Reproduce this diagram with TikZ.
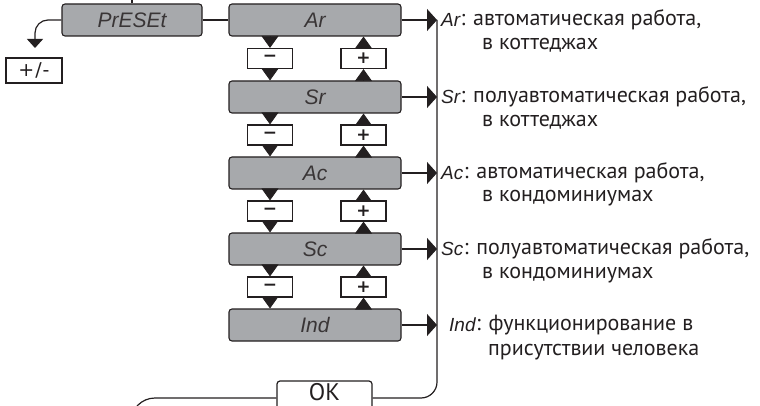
\documentclass[tikz,border=0pt]{standalone}
\usepackage{fontspec}
\setmainfont{PT Sans}
\newfontfamily\lcdfont{Liberation Sans}
\newfontfamily\keyfont{DejaVu Sans}
\usetikzlibrary{arrows.meta}
\definecolor{boxgray}{HTML}{A7A9AC}
\definecolor{ink}{HTML}{231F20}
\begin{document}
\begin{tikzpicture}[x=1pt,y=-1pt,
  conn/.style={draw=ink, line width=1.2pt},
  lcdbox/.style={draw=ink, line width=1.1pt, fill=boxgray, rounded corners=3pt,
    minimum width=172pt, minimum height=32pt, inner sep=0pt,
    font=\lcdfont\itshape\fontsize{21}{21}\selectfont, text=ink!90},
  keybox/.style={draw=ink, line width=1.2pt, fill=white, minimum width=45pt,
    minimum height=20pt, inner sep=0pt, font=\keyfont\bfseries\fontsize{17}{17}\selectfont, text=ink},
  bigtip/.style={-{Triangle[length=10pt,width=22pt]}},
  smalltip/.style={-{Triangle[length=12pt,width=17pt]}},
  desc/.style={anchor=west, inner sep=0pt, font=\fontsize{22}{22}\selectfont, text=ink},
  lbl/.style={anchor=west, inner sep=0pt, font=\lcdfont\itshape\fontsize{19}{19}\selectfont, text=ink}
]
\useasboundingbox (0,0) rectangle (760,406);
\begin{scope}
\clip (0,0) rectangle (760,406);
% display boxes
\node[lcdbox, minimum width=140pt] (preset) at (132,20) {PrESEt};
\node[lcdbox] (ar)  at (315,20)  {Ar};
\node[lcdbox] (sr)  at (315,97)  {Sr};
\node[lcdbox] (ac)  at (315,173) {Ac};
\node[lcdbox] (sc)  at (315,249) {Sc};
\node[lcdbox] (ind) at (315,325) {Ind};
% +/- key
\node[keybox, minimum width=56pt, minimum height=25pt, font=\keyfont\fontsize{19}{19}\selectfont] (pm) at (34,70.5) {+\kern1pt/\kern1pt-};
\coordinate (pmtip) at (35,48);
% minus / plus keys
\node[keybox] (m1) at (270,58.5) {−};
\node[keybox] (p1) at (363.5,58.5) {+};
\node[keybox] (m2) at (270,135) {−};
\node[keybox] (p2) at (363.5,135) {+};
\node[keybox] (m3) at (270,211) {−};
\node[keybox] (p3) at (363.5,211) {+};
\node[keybox] (m4) at (270,287) {−};
\node[keybox] (p4) at (363.5,287) {+};
% OK key
\node[keybox, rounded corners=3pt, minimum width=95pt, minimum height=34pt] (ok) at (324.5,398) {};
\node[inner sep=0pt, font=\fontsize{24}{24}\selectfont, text=ink] (oktxt) at (324.5,392) {OK};
% connectors at top
\draw[conn] (preset.north) -- ++(0,-8);
\draw[conn] (preset.east) -- (ar.west);
\draw[conn, rounded corners=13pt, -{Triangle[length=9pt,width=16pt]}] (preset.west) -| (pmtip);
% up/down arrows
\foreach \u/\d/\m/\p in {ar/sr/m1/p1, sr/ac/m2/p2, ac/sc/m3/p3, sc/ind/m4/p4}{
  \draw[conn, line width=0.8pt, smalltip] (\m.north |- \u.south) -- (\m.north);
  \draw[conn, line width=0.8pt, smalltip] (\m.south) -- (\m.south |- \d.north);
  \draw[conn, line width=0.8pt, smalltip] (\p.north) -- (\p.north |- \u.south);
  \draw[conn, line width=0.8pt, smalltip] (\p.south |- \d.north) -- (\p.south);
}
% bus on the right
\coordinate (busx) at (437,0);
\foreach \b in {ar,sr,ac,sc,ind}{
  \draw[conn, bigtip] (\b.east) -- (\b.east -| busx);
}
\draw[conn, rounded corners=16pt] (ar.east -| busx) |- (ok.east);
\coordinate (lowleft) at (131,440);
\draw[conn, rounded corners=24pt] (ok.west) -| (lowleft);
% descriptions
\node[lbl] (lar) at (441,20) {Ar};
\node[desc, anchor=west] (dar1) at (lar.east) {: автоматическая работа,};
\node[desc] (dar2) at (482,45) {в коттеджах};
\node[lbl] (lsr) at (441,97) {Sr};
\node[desc] (dsr1) at (lsr.east) {: полуавтоматическая работа,};
\node[desc] (dsr2) at (482,122) {в коттеджах};
\node[lbl] (lac) at (441,173) {Ac};
\node[desc] (dac1) at (lac.east) {: автоматическая работа,};
\node[desc] (dac2) at (482,198) {в кондоминиумах};
\node[lbl] (lsc) at (441,249) {Sc};
\node[desc] (dsc1) at (lsc.east) {: полуавтоматическая работа,};
\node[desc] (dsc2) at (482,275) {в кондоминиумах};
\node[lbl] (lind) at (449,325) {Ind};
\node[desc] (dind1) at (lind.east) {: функционирование в};
\node[desc] (dind2) at (488,352) {присутствии человека};
\end{scope}
\end{tikzpicture}
\end{document}
